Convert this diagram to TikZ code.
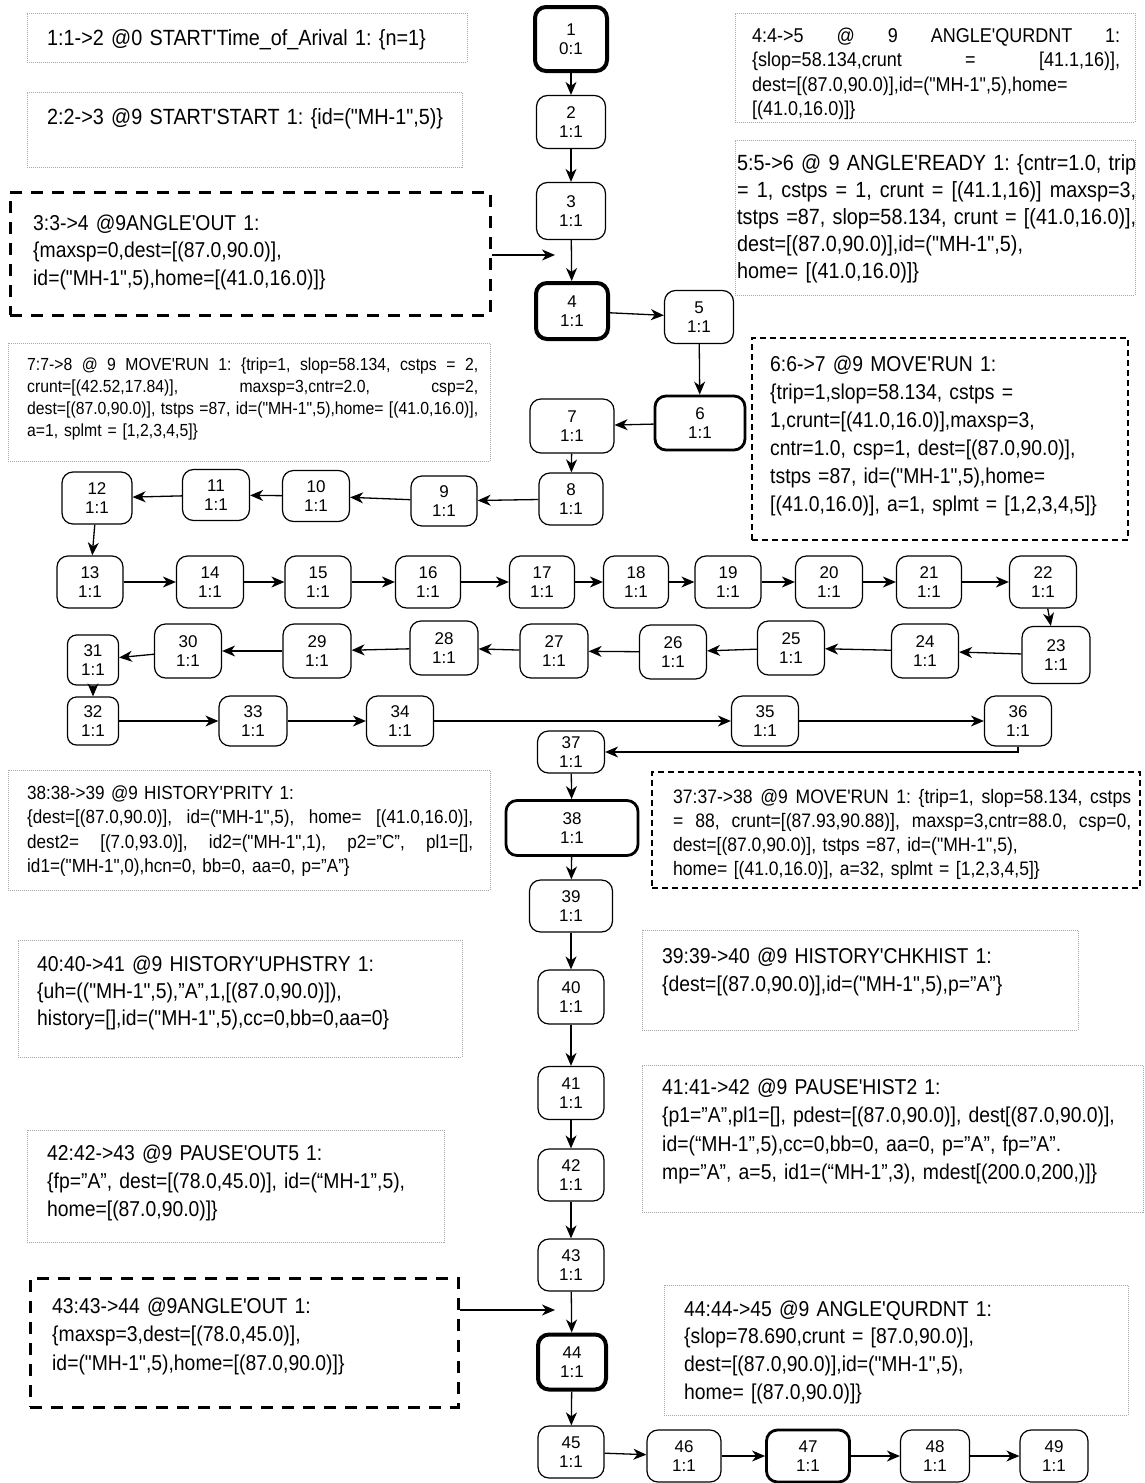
\documentclass[tikz,border=0pt]{standalone}
\usepackage{fontspec}
\setmainfont{Liberation Sans}
\newfontfamily\nf{Liberation Sans}[FakeStretch=0.9]
\usetikzlibrary{arrows.meta,fit}
\frenchspacing
\newcommand\jl[2]{\leavevmode\hbox to #1{\spaceskip=\fontdimen2\font plus 1fil\relax #2}}
\newcommand\nfs[2]{\nf\fontsize{#1}{#2}\selectfont\frenchspacing}
\newcommand\lab{\fontsize{17}{19}\selectfont}
\tikzset{
 st/.style={draw, rounded corners=11pt, line width=1.2pt, align=center, inner sep=0pt, font=\lab},
 thk/.style={line width=4pt},
 mthk/.style={line width=2.8pt},
 arr/.style={-{Stealth[length=13pt,width=11pt,inset=4pt]}, line width=1.3pt},
 dotbox/.style={draw=gray!70, line width=0.7pt, dash pattern=on 1pt off 1pt, inner sep=0pt},
 dashbig/.style={draw, line width=3pt, dash pattern=on 12pt off 9pt, inner sep=0pt},
 dashsmall/.style={draw, line width=1.3pt, dash pattern=on 6pt off 4pt, inner sep=0pt},
 note/.style={anchor=base west, inner sep=0pt, align=left, text width=#1},
}
\begin{document}
\begin{tikzpicture}[x=1pt,y=-1pt]
\useasboundingbox (0,0) rectangle (1144,1483);
% ---------- state nodes ----------
\node[st,thk,minimum width=72pt,minimum height=64pt] (n1) at (571,39) {1\\0:1};
\node[st,minimum width=69pt,minimum height=53pt] (n2) at (571,122) {2\\1:1};
\node[st,minimum width=69pt,minimum height=57pt] (n3) at (571,211) {3\\1:1};
\node[st,thk,minimum width=72pt,minimum height=56pt] (n4) at (572,311) {4\\1:1};
\node[st,minimum width=69pt,minimum height=53pt] (n5) at (699,317) {5\\1:1};
\node[st,mthk,minimum width=90pt,minimum height=54pt] (n6) at (700,423) {6\\1:1};
\node[st,minimum width=84pt,minimum height=54pt] (n7) at (572,426) {7\\1:1};
\node[st,minimum width=64pt,minimum height=52pt] (n8) at (571,499) {8\\1:1};
\node[st,minimum width=66pt,minimum height=50pt] (n9) at (444,501) {9\\1:1};
\node[st,minimum width=67pt,minimum height=51pt] (n10) at (316,496) {10\\1:1};
\node[st,minimum width=67pt,minimum height=51pt] (n11) at (216,495) {11\\1:1};
\node[st,minimum width=70pt,minimum height=52pt] (n12) at (97,498) {12\\1:1};
\node[st,minimum width=66pt,minimum height=52pt] (n13) at (90,582) {13\\1:1};
\node[st,minimum width=67pt,minimum height=52pt] (n14) at (210,582) {14\\1:1};
\node[st,minimum width=66pt,minimum height=52pt] (n15) at (318,582) {15\\1:1};
\node[st,minimum width=65pt,minimum height=52pt] (n16) at (428,582) {16\\1:1};
\node[st,minimum width=65pt,minimum height=52pt] (n17) at (542,582) {17\\1:1};
\node[st,minimum width=65pt,minimum height=52pt] (n18) at (636,582) {18\\1:1};
\node[st,minimum width=66pt,minimum height=52pt] (n19) at (728,582) {19\\1:1};
\node[st,minimum width=67pt,minimum height=52pt] (n20) at (829,582) {20\\1:1};
\node[st,minimum width=65pt,minimum height=52pt] (n21) at (929,582) {21\\1:1};
\node[st,minimum width=67pt,minimum height=52pt] (n22) at (1043,582) {22\\1:1};
\node[st,minimum width=68pt,minimum height=57pt] (n23) at (1056,655) {23\\1:1};
\node[st,minimum width=67pt,minimum height=54pt] (n24) at (925,651) {24\\1:1};
\node[st,minimum width=67pt,minimum height=54pt] (n25) at (791,648) {25\\1:1};
\node[st,minimum width=67pt,minimum height=54pt] (n26) at (673,652) {26\\1:1};
\node[st,minimum width=68pt,minimum height=54pt] (n27) at (554,651) {27\\1:1};
\node[st,minimum width=68pt,minimum height=54pt] (n28) at (444,648) {28\\1:1};
\node[st,minimum width=68pt,minimum height=54pt] (n29) at (317,651) {29\\1:1};
\node[st,minimum width=67pt,minimum height=54pt] (n30) at (188,651) {30\\1:1};
\node[st,minimum width=51pt,minimum height=50pt,rounded corners=9pt] (n31) at (93,660) {31\\1:1};
\node[st,minimum width=51pt,minimum height=48pt,rounded corners=9pt] (n32) at (93,721) {32\\1:1};
\node[st,minimum width=68pt,minimum height=50pt] (n33) at (253,721) {33\\1:1};
\node[st,minimum width=67pt,minimum height=50pt] (n34) at (400,721) {34\\1:1};
\node[st,minimum width=67pt,minimum height=50pt] (n35) at (765,721) {35\\1:1};
\node[st,minimum width=67pt,minimum height=50pt] (n36) at (1018,721) {36\\1:1};
\node[st,minimum width=67pt,minimum height=42pt] (n37) at (571,752) {37\\1:1};
\node[st,mthk,minimum width=132pt,minimum height=55pt] (n38) at (572,828) {38\\1:1};
\node[st,minimum width=83pt,minimum height=52pt] (n39) at (571,906) {39\\1:1};
\node[st,minimum width=66pt,minimum height=54pt] (n40) at (571,997) {40\\1:1};
\node[st,minimum width=66pt,minimum height=53pt] (n41) at (571,1093) {41\\1:1};
\node[st,minimum width=66pt,minimum height=52pt] (n42) at (571,1175) {42\\1:1};
\node[st,minimum width=66pt,minimum height=52pt] (n43) at (571,1265) {43\\1:1};
\node[st,thk,minimum width=68pt,minimum height=55pt] (n44) at (572,1362) {44\\1:1};
\node[st,minimum width=66pt,minimum height=52pt] (n45) at (571,1452) {45\\1:1};
\node[st,minimum width=74pt,minimum height=52pt] (n46) at (684,1456) {46\\1:1};
\node[st,mthk,minimum width=83pt,minimum height=52pt] (n47) at (808,1456) {47\\1:1};
\node[st,minimum width=69pt,minimum height=52pt] (n48) at (935,1456) {48\\1:1};
\node[st,minimum width=68pt,minimum height=52pt] (n49) at (1054,1456) {49\\1:1};
% ---------- connectors ----------
\foreach \a/\b in {1/2,2/3,3/4,4/5,5/6,6/7,7/8,8/9,9/10,10/11,11/12,12/13,13/14,14/15,15/16,16/17,17/18,18/19,19/20,20/21,21/22,22/23,23/24,24/25,25/26,26/27,27/28,28/29,29/30,30/31,31/32,32/33,33/34,34/35,35/36,37/38,38/39,39/40,40/41,41/42,42/43,43/44,44/45,45/46,46/47,47/48,48/49}
  \draw[arr] (n\a) -- (n\b);
\draw[arr] (n36.south) |- (n37.east);
% ---------- annotation boxes ----------
\node[dotbox,fit={(27,13) (467,62)}] (b1) {};
\node[dotbox,fit={(27,92) (462,167)}] (b2) {};
\node[dashbig,fit={(10,192) (490,315)}] (b3) {};
\node[dotbox,fit={(735,13) (1135,122)}] (b4) {};
\node[dotbox,fit={(735,140) (1135,295)}] (b5) {};
\node[dashsmall,fit={(752,338) (1128,540)}] (b6) {};
\node[dotbox,fit={(8,343) (490,461)}] (b7) {};
\node[dotbox,fit={(8,770) (490,890)}] (b8) {};
\node[dashsmall,fit={(652,772) (1140,888)}] (b9) {};
\node[dotbox,fit={(18,940) (462,1057)}] (b10) {};
\node[dotbox,fit={(642,930) (1078,1030)}] (b11) {};
\node[dotbox,fit={(642,1065) (1143,1212)}] (b12) {};
\node[dotbox,fit={(27,1130) (444,1242)}] (b13) {};
\node[dashbig,fit={(30,1278) (458,1407)}] (b14) {};
\node[dotbox,fit={(664,1285) (1128,1415)}] (b15) {};
\coordinate (a3) at (555,255);
\draw[arr] (b3.east |- a3) -- (a3);
\coordinate (a14) at (555,1310);
\draw[arr] (b14.east |- a14) -- (a14);
% ---------- texts ----------
\node[note=500pt,font=\nfs{22}{27}] (t1) at (47,45) {1:1->2 @0 START'Time\_of\_Arival 1: \{n=1\}};
\node[note=500pt,font=\nfs{22}{27}] (t2) at (47,124) {2:2->3 @9 START'START 1: \{id=("MH-1",5)\}};
\node[note=500pt,font=\nfs{21.5}{27.5}] (t3) at (33,230) {3:3->4 @9ANGLE'OUT 1:\\ \{maxsp=0,dest=[(87.0,90.0)],\\ id=("MH-1",5),home=[(41.0,16.0)]\}};
\node[note=400pt,font=\nfs{20}{24.5}] (t4) at (752,42) {\jl{368pt}{4:4->5 @ 9 ANGLE'QURDNT 1:}\\ \jl{368pt}{\{slop=58.134,crunt = [41.1,16)],}\\ dest=[(87.0,90.0)],id=("MH-1",5),home=\\{}[(41.0,16.0)]\}};
\node[note=420pt,font=\nfs{22}{27}] (t5) at (737,170) {\jl{399pt}{5:5->6 @ 9 ANGLE'READY 1: \{cntr=1.0, trip}\\ \jl{399pt}{= 1, cstps = 1, crunt = [(41.1,16)] maxsp=3,}\\ \jl{399pt}{tstps =87, slop=58.134, crunt = [(41.0,16.0)],}\\ dest=[(87.0,90.0)],id=("MH-1",5),\\ home= [(41.0,16.0)]\}};
\node[note=500pt,font=\nfs{21.5}{28}] (t6) at (770,371) {6:6->7 @9 MOVE'RUN 1:\\ \{trip=1,slop=58.134, cstps =\\ 1,crunt=[(41.0,16.0)],maxsp=3,\\ cntr=1.0, csp=1, dest=[(87.0,90.0)],\\ tstps =87, id=("MH-1",5),home=\\{}[(41.0,16.0)], a=1, splmt = [1,2,3,4,5]\}};
\node[note=480pt,font=\nfs{17.5}{22}] (t7) at (27,370) {\jl{451pt}{7:7->8 @ 9 MOVE'RUN 1: \{trip=1, slop=58.134, cstps = 2,}\\ \jl{451pt}{crunt=[(42.52,17.84)], maxsp=3,cntr=2.0, csp=2,}\\ \jl{451pt}{dest=[(87.0,90.0)], tstps =87, id=("MH-1",5),home= [(41.0,16.0)],}\\ a=1, splmt = [1,2,3,4,5]\}};
\node[note=480pt,font=\nfs{19}{24.5}] (t8) at (27,799) {38:38->39 @9 HISTORY'PRITY 1:\\ \jl{446pt}{\{dest=[(87.0,90.0)], id=("MH-1",5), home= [(41.0,16.0)],}\\ \jl{446pt}{dest2= [(7.0,93.0)], id2=("MH-1",1), p2=”C”, pl1=[],}\\ id1=("MH-1",0),hcn=0, bb=0, aa=0, p=”A”\}};
\node[note=480pt,font=\nfs{19.5}{24}] (t9) at (673,803) {\jl{458pt}{37:37->38 @9 MOVE'RUN 1: \{trip=1, slop=58.134, cstps}\\ \jl{458pt}{= 88, crunt=[(87.93,90.88)], maxsp=3,cntr=88.0, csp=0,}\\ dest=[(87.0,90.0)], tstps =87, id=("MH-1",5),\\ home= [(41.0,16.0)], a=32, splmt = [1,2,3,4,5]\}};
\node[note=500pt,font=\nfs{21.5}{27}] (t10) at (37,971) {40:40->41 @9 HISTORY'UPHSTRY 1:\\ \{uh=(("MH-1",5),”A”,1,[(87.0,90.0)]),\\ history=[],id=("MH-1",5),cc=0,bb=0,aa=0\}};
\node[note=500pt,font=\nfs{21.5}{28}] (t11) at (662,963) {39:39->40 @9 HISTORY'CHKHIST 1:\\ \{dest=[(87.0,90.0)],id=("MH-1",5),p=”A”\}};
\node[note=500pt,font=\nfs{21.5}{28.5}] (t12) at (662,1094) {41:41->42 @9 PAUSE'HIST2 1:\\ \{p1=”A”,pl1=[], pdest=[(87.0,90.0)], dest[(87.0,90.0)],\\ id=(“MH-1”,5),cc=0,bb=0, aa=0, p=”A”, fp=”A”.\\ mp=”A”, a=5, id1=(“MH-1”,3), mdest[(200.0,200,)]\}};
\node[note=500pt,font=\nfs{21.5}{28}] (t13) at (47,1160) {42:42->43 @9 PAUSE'OUT5 1:\\ \{fp=”A”, dest=[(78.0,45.0)], id=(“MH-1”,5),\\ home=[(87.0,90.0)]\}};
\node[note=500pt,font=\nfs{21.5}{28.5}] (t14) at (52,1313) {43:43->44 @9ANGLE'OUT 1:\\ \{maxsp=3,dest=[(78.0,45.0)],\\ id=("MH-1",5),home=[(87.0,90.0)]\}};
\node[note=500pt,font=\nfs{21.5}{27.7}] (t15) at (684,1316) {44:44->45 @9 ANGLE'QURDNT 1:\\ \{slop=78.690,crunt = [87.0,90.0)],\\ dest=[(87.0,90.0)],id=("MH-1",5),\\ home= [(87.0,90.0)]\}};
\end{tikzpicture}
\end{document}
